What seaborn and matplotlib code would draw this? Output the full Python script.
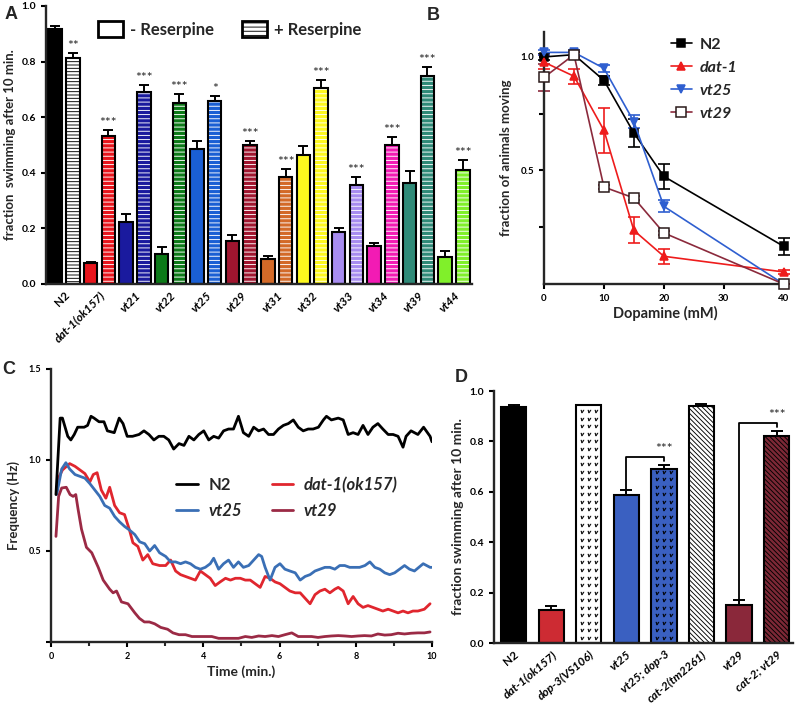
import numpy as np
import pandas as pd
import matplotlib
matplotlib.use('Agg')
import matplotlib.pyplot as plt
from matplotlib.patches import Rectangle, Patch
import seaborn as sns

# ---------------- data ----------------
# A: fraction swimming after 10 min, without / with reserpine
a_strains = ['N2', 'dat-1(ok157)', 'vt21', 'vt22', 'vt25', 'vt29',
             'vt31', 'vt32', 'vt33', 'vt34', 'vt39', 'vt44']
a_minus = [0.917, 0.074, 0.223, 0.109, 0.487, 0.155, 0.089, 0.464, 0.188, 0.135, 0.363, 0.097]
a_minus_err = [0.010, 0.006, 0.027, 0.023, 0.026, 0.020, 0.013, 0.032, 0.015, 0.011, 0.045, 0.022]
a_plus = [0.814, 0.534, 0.689, 0.652, 0.658, 0.501, 0.384, 0.705, 0.357, 0.499, 0.748, 0.410]
a_plus_err = [0.018, 0.021, 0.026, 0.031, 0.018, 0.012, 0.031, 0.028, 0.028, 0.029, 0.032, 0.036]
a_stars = ['**', '***', '***', '***', '*', '***', '***', '***', '***', '***', '***', '***']
a_colors = ['#000000', '#e8151c', '#1a1a9e', '#0c7a18', '#1a5fd4', '#a0152f',
            '#d36a28', '#fdf81e', '#a78cf0', '#f21bb4', '#2f8a78', '#80f02a']

# B: dopamine dose response
dopamine = [0, 5, 10, 15, 20, 40]
b_n2 = [1.00, 1.01, 0.897, 0.665, 0.474, 0.166]
b_n2_err = [0.015, 0.010, 0.020, 0.062, 0.054, 0.038]
b_dat1 = [0.977, 0.915, 0.677, 0.236, 0.122, 0.053]
b_dat1_err = [0.030, 0.033, 0.100, 0.057, 0.033, 0.010]
b_vt25 = [1.02, 1.02, 0.950, 0.715, 0.342, 0.0]
b_vt25_err = [0.010, 0.010, 0.015, 0.030, 0.027, 0.0]
b_vt29 = [0.910, 1.01, 0.427, 0.379, 0.225, 0.0]
b_vt29_err = [0.060, 0.010, 0.010, 0.010, 0.010, 0.0]

# C: swimming frequency over time, (min, Hz)
c_n2 = [(0.13, 0.81), (0.24, 1.23), (0.30, 1.23), (0.44, 1.13), (0.52, 1.11), (0.61, 1.14),
        (0.70, 1.18), (0.87, 1.18), (0.96, 1.19), (1.05, 1.24), (1.13, 1.23), (1.26, 1.21),
        (1.39, 1.21), (1.48, 1.16), (1.66, 1.15), (1.79, 1.23), (1.89, 1.20), (2.00, 1.13),
        (2.14, 1.13), (2.31, 1.14), (2.44, 1.16), (2.57, 1.14), (2.70, 1.11), (2.83, 1.13),
        (2.96, 1.13), (3.09, 1.11), (3.22, 1.06), (3.36, 1.09), (3.49, 1.08), (3.62, 1.13),
        (3.75, 1.11), (3.88, 1.14), (4.01, 1.16), (4.14, 1.11), (4.27, 1.13), (4.40, 1.12),
        (4.53, 1.16), (4.66, 1.17), (4.79, 1.17), (4.92, 1.24), (5.05, 1.15), (5.19, 1.13),
        (5.32, 1.18), (5.45, 1.16), (5.58, 1.17), (5.71, 1.14), (5.84, 1.14), (5.97, 1.17),
        (6.10, 1.19), (6.23, 1.20), (6.36, 1.22), (6.49, 1.18), (6.62, 1.16), (6.75, 1.17),
        (6.88, 1.17), (7.02, 1.18), (7.15, 1.22), (7.23, 1.24), (7.36, 1.22), (7.54, 1.23),
        (7.67, 1.22), (7.80, 1.14), (7.93, 1.15), (8.06, 1.14), (8.19, 1.19), (8.32, 1.14),
        (8.45, 1.18), (8.58, 1.20), (8.71, 1.17), (8.85, 1.14), (8.98, 1.14), (9.11, 1.13),
        (9.24, 1.07), (9.32, 1.13), (9.45, 1.16), (9.63, 1.14), (9.78, 1.18), (9.95, 1.13),
        (10.0, 1.10)]
c_vt25 = [(0.15, 0.81), (0.28, 0.95), (0.39, 0.985), (0.49, 0.95), (0.63, 0.92), (0.76, 0.91),
          (0.89, 0.90), (1.02, 0.87), (1.15, 0.835), (1.28, 0.80), (1.41, 0.75), (1.54, 0.735),
          (1.67, 0.69), (1.80, 0.66), (1.93, 0.635), (2.06, 0.615), (2.20, 0.59), (2.33, 0.55),
          (2.46, 0.54), (2.59, 0.50), (2.72, 0.53), (2.85, 0.49), (3.01, 0.47), (3.14, 0.44),
          (3.27, 0.44), (3.40, 0.43), (3.53, 0.44), (3.66, 0.43), (3.79, 0.41), (3.92, 0.40),
          (4.05, 0.41), (4.18, 0.43), (4.27, 0.46), (4.40, 0.40), (4.53, 0.43), (4.66, 0.45),
          (4.79, 0.41), (4.92, 0.44), (5.05, 0.41), (5.19, 0.42), (5.32, 0.45), (5.45, 0.48),
          (5.53, 0.47), (5.62, 0.41), (5.75, 0.34), (5.88, 0.41), (6.01, 0.43), (6.14, 0.40),
          (6.27, 0.39), (6.41, 0.38), (6.54, 0.34), (6.67, 0.36), (6.80, 0.37), (6.93, 0.39),
          (7.06, 0.40), (7.19, 0.41), (7.32, 0.41), (7.45, 0.40), (7.58, 0.42), (7.71, 0.42),
          (7.84, 0.41), (7.97, 0.41), (8.10, 0.41), (8.24, 0.42), (8.37, 0.44), (8.50, 0.41),
          (8.63, 0.40), (8.76, 0.38), (8.89, 0.37), (9.02, 0.38), (9.15, 0.40), (9.28, 0.42),
          (9.41, 0.40), (9.54, 0.39), (9.77, 0.43), (9.95, 0.41), (10.0, 0.41)]
c_dat1 = [(0.17, 0.89), (0.30, 0.945), (0.49, 0.98), (0.63, 0.965), (0.76, 0.945), (0.89, 0.925),
          (1.02, 0.88), (1.11, 0.92), (1.21, 0.93), (1.32, 0.835), (1.44, 0.79), (1.54, 0.85),
          (1.67, 0.75), (1.80, 0.71), (1.93, 0.70), (2.06, 0.615), (2.15, 0.545), (2.28, 0.525),
          (2.41, 0.45), (2.54, 0.48), (2.67, 0.43), (2.85, 0.42), (3.01, 0.42), (3.14, 0.45),
          (3.27, 0.39), (3.40, 0.37), (3.53, 0.36), (3.66, 0.35), (3.79, 0.34), (3.92, 0.39),
          (4.05, 0.37), (4.18, 0.35), (4.31, 0.31), (4.44, 0.33), (4.58, 0.35), (4.71, 0.34),
          (4.84, 0.35), (4.97, 0.35), (5.10, 0.34), (5.23, 0.34), (5.36, 0.32), (5.49, 0.30),
          (5.62, 0.36), (5.75, 0.35), (5.88, 0.33), (6.01, 0.32), (6.14, 0.30), (6.27, 0.28),
          (6.41, 0.27), (6.54, 0.27), (6.67, 0.24), (6.80, 0.21), (6.93, 0.26), (7.06, 0.28),
          (7.19, 0.29), (7.32, 0.27), (7.45, 0.29), (7.54, 0.30), (7.67, 0.28), (7.80, 0.21),
          (7.93, 0.25), (8.06, 0.21), (8.19, 0.19), (8.32, 0.20), (8.45, 0.19), (8.58, 0.18),
          (8.71, 0.17), (8.85, 0.18), (8.98, 0.17), (9.11, 0.16), (9.24, 0.17), (9.37, 0.16),
          (9.50, 0.17), (9.63, 0.17), (9.80, 0.18), (9.95, 0.21)]
c_vt29 = [(0.13, 0.58), (0.20, 0.80), (0.28, 0.846), (0.40, 0.85), (0.50, 0.81), (0.58, 0.80),
          (0.65, 0.81), (0.71, 0.73), (0.80, 0.62), (0.93, 0.52), (1.07, 0.49), (1.24, 0.41),
          (1.37, 0.34), (1.54, 0.29), (1.63, 0.27), (1.72, 0.28), (1.85, 0.22), (2.02, 0.21),
          (2.20, 0.16), (2.32, 0.13), (2.45, 0.11), (2.58, 0.11), (2.72, 0.10), (2.88, 0.08),
          (3.06, 0.07), (3.20, 0.05), (3.36, 0.04), (3.53, 0.04), (3.70, 0.03), (3.87, 0.03),
          (4.05, 0.03), (4.22, 0.03), (4.40, 0.02), (4.58, 0.02), (4.75, 0.02), (4.92, 0.02),
          (5.10, 0.03), (5.27, 0.025), (5.45, 0.033), (5.62, 0.03), (5.80, 0.035), (5.97, 0.03),
          (6.14, 0.04), (6.32, 0.05), (6.49, 0.03), (6.67, 0.03), (6.84, 0.03), (7.01, 0.025),
          (7.19, 0.03), (7.36, 0.033), (7.54, 0.035), (7.71, 0.033), (7.89, 0.03), (8.06, 0.033),
          (8.23, 0.035), (8.41, 0.033), (8.58, 0.044), (8.76, 0.038), (8.93, 0.04), (9.11, 0.048),
          (9.28, 0.044), (9.45, 0.048), (9.63, 0.05), (9.80, 0.05), (9.95, 0.055)]

# D: fraction swimming after 10 min, double mutants
d_strains = ['N2', 'dat-1(ok157)', 'dop-3(VS106)', 'vt25', 'vt25; dop-3',
             'cat-2(tm2261)', 'vt29', 'cat-2; vt29']
d_vals = [0.938, 0.130, 0.943, 0.587, 0.691, 0.940, 0.150, 0.821]
d_err = [0.008, 0.017, 0.002, 0.020, 0.015, 0.008, 0.020, 0.020]
d_colors = ['#000000', '#e8101a', '#ffffff', '#2356d8', '#2356d8', '#ffffff', '#9a1830', '#8a1a2c']
d_fill = ['solid', 'solid', 'v', 'solid', 'v', 'diag', 'solid', 'diag']
d_pairs = [(3, 4), (6, 7)]

# ---------------- style ----------------
sns.set_style('ticks')
plt.rcParams['font.family'] = ['Lato', 'DejaVu Sans']
plt.rcParams['font.weight'] = 'bold'
plt.rcParams['axes.labelweight'] = 'bold'
plt.rcParams['axes.linewidth'] = 1.7
plt.rcParams['hatch.linewidth'] = 0.65
plt.rcParams['xtick.major.width'] = 1.5
plt.rcParams['ytick.major.width'] = 1.5
plt.rcParams['xtick.minor.width'] = 1.5
plt.rcParams['xtick.major.size'] = 3.5
plt.rcParams['ytick.major.size'] = 3.5
plt.rcParams['xtick.minor.size'] = 3.0

fig = plt.figure(figsize=(7.97, 7.04), dpi=100)


def clean(ax):
    sns.despine(ax=ax)
    ax.tick_params(colors='black', labelsize=7.5)


# ---------------- panel A ----------------
axA = fig.add_axes([0.0577, 0.5966, 0.5345, 0.3949])
dfA = pd.DataFrame({'strain': a_strains * 2,
                    'treat': ['minus'] * len(a_strains) + ['plus'] * len(a_strains),
                    'value': a_minus + a_plus})
sns.barplot(data=dfA, x='strain', y='value', hue='treat', order=a_strains,
            hue_order=['minus', 'plus'], width=1.0, gap=0.24, errorbar=None,
            legend=False, edgecolor='black', linewidth=1.5, ax=axA)
barsA = sorted(axA.patches, key=lambda p: p.get_x())
for i, p in enumerate(barsA):
    k, plus = divmod(i, 2)
    cx = p.get_x() + p.get_width() / 2
    if plus:
        h, e = a_plus[k], a_plus_err[k]
        if k == 0:
            p.set_facecolor('white')
            p.set_hatch('-----')
        else:
            p.set_facecolor(a_colors[k])
            p.set_edgecolor('white')
            p.set_linewidth(0)
            p.set_hatch('----')
            axA.add_patch(Rectangle((p.get_x(), 0), p.get_width(), p.get_height(),
                                    fill=False, edgecolor='black', lw=1.5, zorder=p.get_zorder() + 0.1))
        axA.text(cx, h + e + 0.004, a_stars[k], ha='center', va='bottom',
                 fontsize=10, fontweight='normal')
    else:
        h, e = a_minus[k], a_minus_err[k]
        p.set_facecolor(a_colors[k])
    axA.errorbar(cx, h, yerr=[[0], [e]], fmt='none', ecolor='black',
                 elinewidth=1.4, capsize=3.5, capthick=1.4, zorder=1)

axA.set_xlim(-0.51, 11.51)
axA.set_ylim(0, 1.0)
axA.set_yticks(np.arange(0, 1.01, 0.2))
axA.set_yticklabels([f'{v:.1f}' for v in np.arange(0, 1.01, 0.2)])
clean(axA)
axA.set_xticks(range(len(a_strains)))
axA.set_xticklabels(a_strains, rotation=45, ha='right', rotation_mode='anchor', fontsize=8.5)
for t in axA.get_xticklabels()[1:]:
    t.set_style('italic')
axA.tick_params(axis='x', length=0, pad=4)
axA.set_xlabel('')
axA.set_ylabel('fraction  swimming after 10 min.', fontsize=9.5, labelpad=4)
legA = axA.legend([Patch(facecolor='white', edgecolor='black', lw=2),
                   Patch(facecolor='white', edgecolor='black', lw=2, hatch='----')],
                  ['- Reserpine', '+ Reserpine'], ncol=2, frameon=False,
                  loc='upper left', bbox_to_anchor=(0.088, 1.0), handlelength=1.5,
                  handleheight=1.1, columnspacing=1.7, handletextpad=0.4,
                  prop={'weight': 'bold', 'size': 12})

# ---------------- panel B ----------------
axB = fig.add_axes([0.6826, 0.5966, 0.3036, 0.358])
b_sets = [('N2', b_n2, b_n2_err, '#000000', 's', '#000000', '#000000'),
          ('dat-1', b_dat1, b_dat1_err, '#ee1c1c', '^', '#ee1c1c', '#ee1c1c'),
          ('vt25', b_vt25, b_vt25_err, '#2f5fd0', 'v', '#2f5fd0', '#2f5fd0'),
          ('vt29', b_vt29, b_vt29_err, '#8b2a3c', 's', 'white', '#2a1a1a')]
for name, vals, err, col, mk, mfc, mec in b_sets:
    axB.errorbar(dopamine, vals, yerr=err, fmt='none', ecolor=col, elinewidth=1.2,
                 capsize=4, capthick=1.2, clip_on=False, zorder=2)
    sns.lineplot(x=dopamine, y=vals, ax=axB, color=col, lw=1.2, marker=mk,
                 markersize=5.5 if name != 'vt29' else 6.5, markerfacecolor=mfc,
                 markeredgecolor=mec, markeredgewidth=1.1, label=name, clip_on=False,
                 zorder=3)
axB.set_xlim(0, 40.4)
axB.set_ylim(0, 1.11)
axB.set_xticks([0, 10, 20, 30, 40])
axB.set_yticks([0.25, 0.5, 0.75, 1.0])
axB.set_yticklabels(['', '0.5', '', '1.0'])
clean(axB)
axB.tick_params(labelsize=7)
axB.set_xlabel('Dopamine (mM)', fontsize=10.5, labelpad=2)
axB.set_ylabel('fraction of animals moving', fontsize=9.5, labelpad=6)
legB = axB.legend(loc='upper left', bbox_to_anchor=(0.465, 1.035), frameon=False,
                  handlelength=1.3, handletextpad=0.5, labelspacing=0.55,
                  prop={'weight': 'bold', 'size': 11.5})
for t in legB.get_texts()[1:]:
    t.set_style('italic')

# ---------------- panel C ----------------
axC = fig.add_axes([0.064, 0.0881, 0.478, 0.3878])
c_sets = [('dat-1(ok157)', c_dat1, '#e0262e'), ('vt25', c_vt25, '#3a6fb5'),
          ('vt29', c_vt29, '#9b2a45'), ('N2', c_n2, '#000000')]
lineC = {}
for name, pts, col in c_sets:
    dfc = pd.DataFrame(pts, columns=['t', 'f'])
    sns.lineplot(data=dfc, x='t', y='f', ax=axC, color=col, lw=2.0, errorbar=None)
    lineC[name] = axC.get_lines()[-1]
axC.set_xlim(0, 10)
axC.set_ylim(0, 1.5)
axC.set_xticks([0, 2, 4, 6, 8, 10])
axC.set_xticks([1, 3, 5, 7, 9], minor=True)
axC.set_yticks([0, 0.5, 1.0, 1.5])
axC.set_yticklabels(['', '0.5', '1.0', '1.5'])
clean(axC)
axC.tick_params(labelsize=6.5)
axC.set_xlabel('Time (min.)', fontsize=10, labelpad=3)
axC.set_ylabel('Frequency (Hz)', fontsize=9.5, labelpad=6)
order = ['N2', 'vt25', 'dat-1(ok157)', 'vt29']
legC = axC.legend([lineC[n] for n in order], order, ncol=2, frameon=False,
                  loc='upper left', bbox_to_anchor=(0.29, 0.66), handlelength=1.3,
                  columnspacing=1.8, labelspacing=0.6, handletextpad=0.6,
                  prop={'weight': 'bold', 'size': 12})
for t in legC.get_texts()[1:]:
    t.set_style('italic')

# ---------------- panel D ----------------
axD = fig.add_axes([0.6198, 0.0866, 0.3752, 0.358])
sns.barplot(x=d_strains, y=d_vals, hue=d_strains, palette=d_colors, legend=False,
            width=0.67, edgecolor='black', linewidth=1.5, errorbar=None, ax=axD)
barsD = sorted(axD.patches, key=lambda p: p.get_x())
for k, p in enumerate(barsD):
    cx = p.get_x() + p.get_width() / 2
    if d_fill[k] == 'diag':
        p.set_hatch('\\' * 7)
    elif d_fill[k] == 'v':
        w = p.get_width()
        gx, gy = np.meshgrid(p.get_x() + w * np.array([0.22, 0.5, 0.78]),
                             np.arange(0.02, p.get_height() - 0.01, 0.03))
        sc = axD.scatter(gx.ravel(), gy.ravel(), marker='$v$', s=6, color='black',
                         linewidths=0.2, zorder=p.get_zorder() + 0.1)
        sc.set_clip_path(p)
    axD.errorbar(cx, d_vals[k], yerr=[[0], [d_err[k]]], fmt='none', ecolor='black',
                 elinewidth=1.4, capsize=4, capthick=1.4, zorder=1)
for (i, j), ytop in zip(d_pairs, [0.739, 0.874]):
    axD.plot([i, i, j, j], [d_vals[i] + d_err[i] + 0.003, ytop, ytop, d_vals[j] + d_err[j] + 0.015],
             color='black', lw=1.3)
    axD.text(j, ytop + 0.006, '***', ha='center', va='bottom', fontsize=10, fontweight='normal')
axD.set_xlim(-0.53, 7.44)
axD.set_ylim(0, 1.0)
axD.set_yticks(np.arange(0, 1.01, 0.2))
axD.set_yticklabels([f'{v:.1f}' for v in np.arange(0, 1.01, 0.2)])
clean(axD)
axD.set_xticks(range(len(d_strains)))
axD.set_xticklabels(d_strains, rotation=40, ha='right', rotation_mode='anchor', fontsize=8.5)
for t in axD.get_xticklabels()[1:]:
    t.set_style('italic')
axD.tick_params(axis='x', length=0, pad=4)
axD.set_ylabel('fraction swimming after 10 min.', fontsize=10, labelpad=4)

# panel letters
for letter, x, y in [('A', 0.006, 0.992), ('B', 0.536, 0.990), ('C', 0.003, 0.487), ('D', 0.570, 0.476)]:
    fig.text(x, y, letter, fontsize=13, fontweight='bold', va='top', family=['Liberation Sans'])

fig.savefig('out.png', dpi=100)
